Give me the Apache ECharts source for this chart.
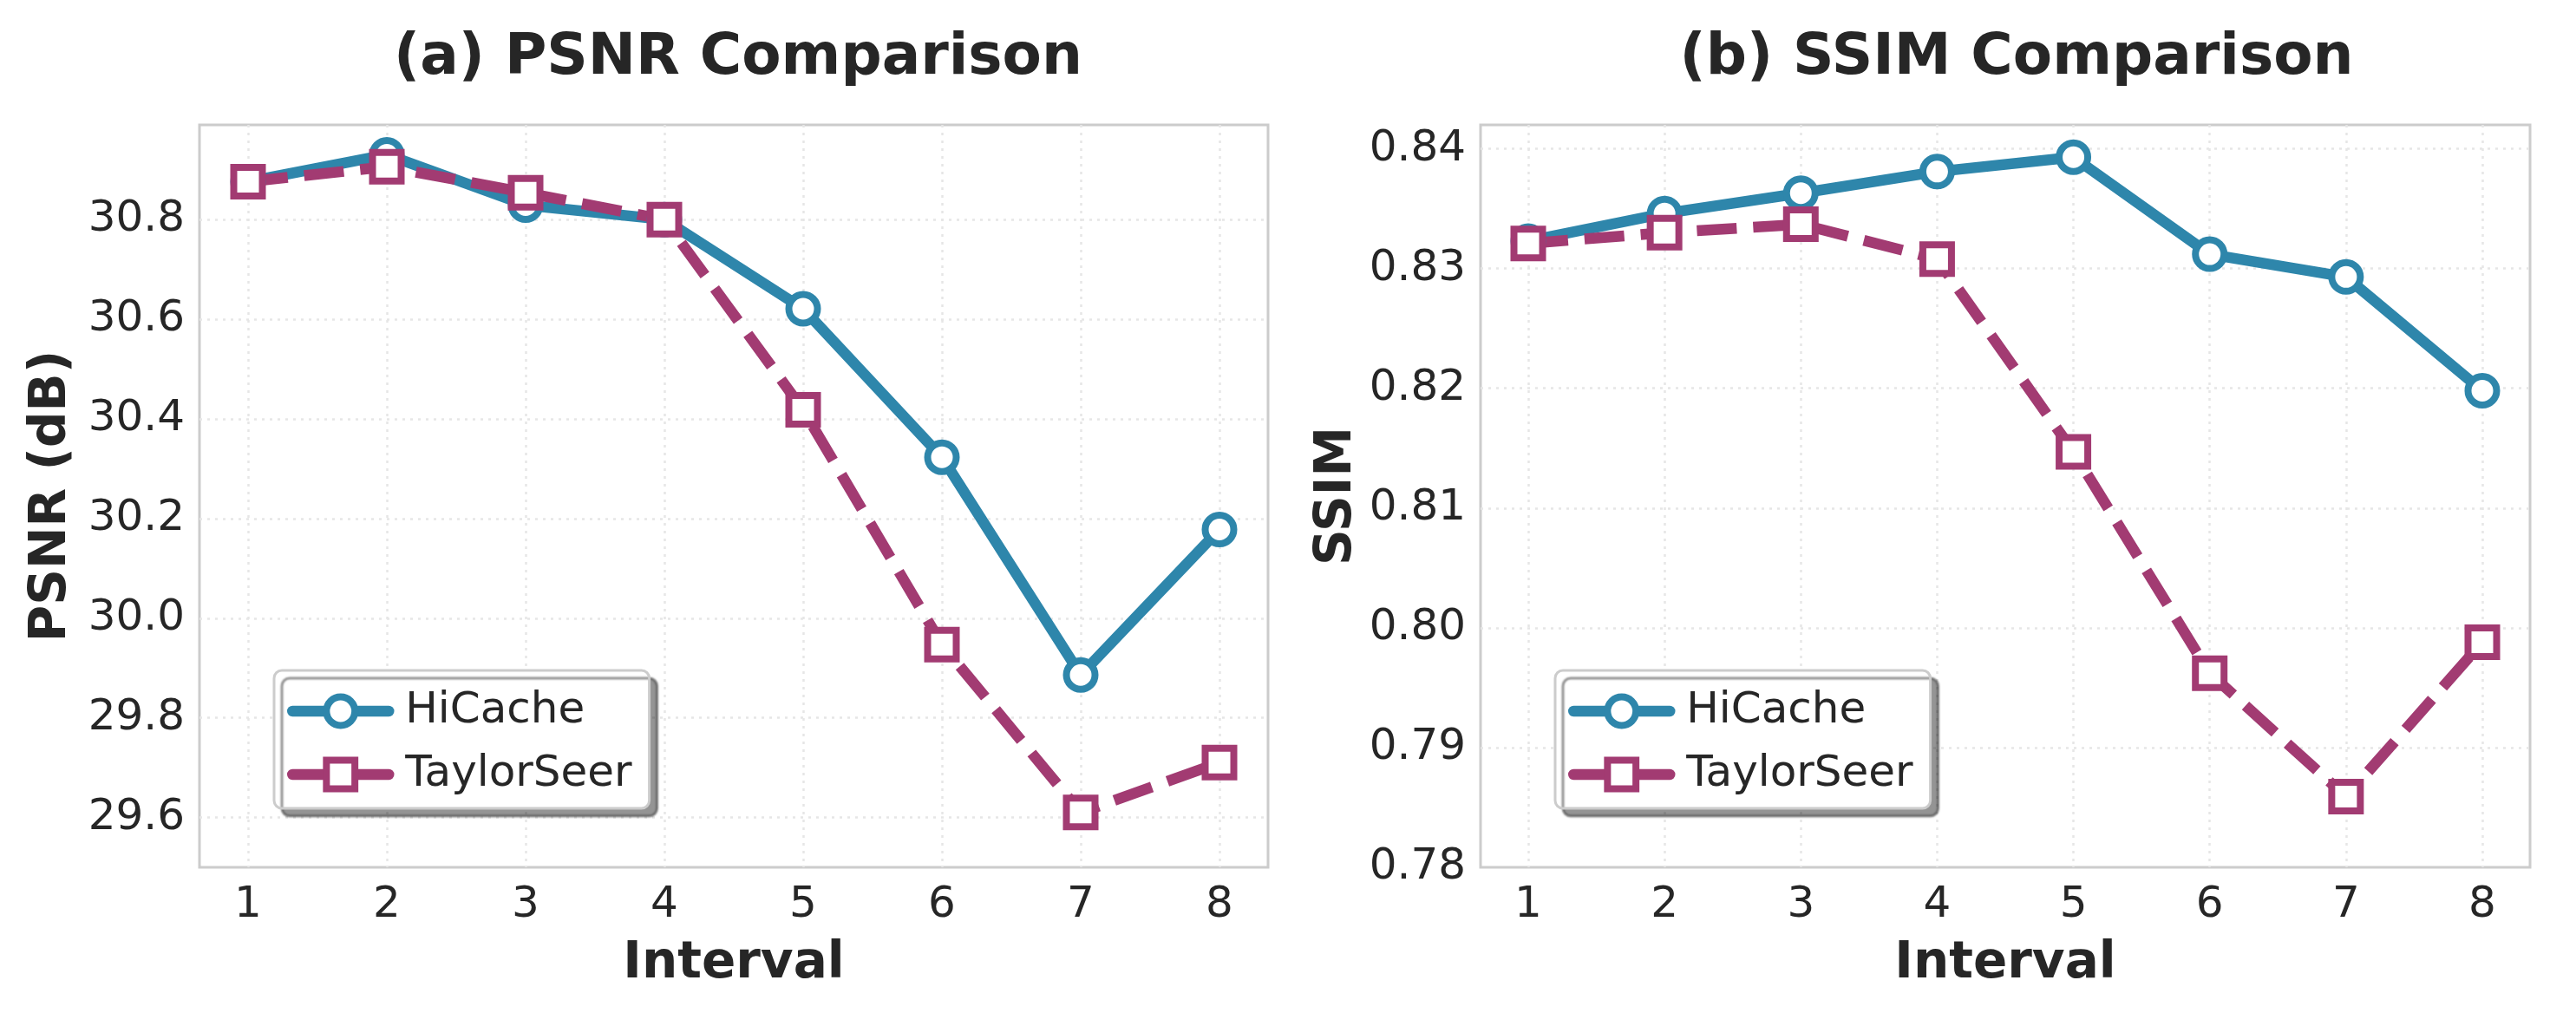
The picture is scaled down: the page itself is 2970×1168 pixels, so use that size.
<!DOCTYPE html>
<html>
<head>
<meta charset="utf-8">
<script src="https://cdn.jsdelivr.net/npm/echarts@6/dist/echarts.min.js"></script>
<style>
html,body{margin:0;padding:0;background:#fff;}
#chart{width:2970px;height:1168px;}
</style>
</head>
<body>
<div id="chart"></div>
<script>
// ---- data ----
const intervals = [1, 2, 3, 4, 5, 6, 7, 8];
const psnrHiCache    = [30.876, 30.930, 30.829, 30.800, 30.621, 30.323, 29.886, 30.178];
const psnrTaylorSeer = [30.876, 30.906, 30.854, 30.800, 30.418, 29.947, 29.610, 29.710];
const ssimHiCache    = [0.8323, 0.8346, 0.8363, 0.8381, 0.8393, 0.8312, 0.8293, 0.8198];
const ssimTaylorSeer = [0.8321, 0.8330, 0.8337, 0.8308, 0.8147, 0.7962, 0.7859, 0.7988];
const seriesNames = ['HiCache', 'TaylorSeer'];
const titles = ['(a) PSNR Comparison', '(b) SSIM Comparison'];
const yNames = ['PSNR (dB)', 'SSIM'];
const xName = 'Interval';

const C_BLUE = '#2E86AB';
const C_PURPLE = '#A23B72';
const TXT = '#262626';
const FONT = 'DejaVu Sans';
const LW = 12.5;
const BW = 8;

const pairs = (ys) => intervals.map((x, i) => [x, ys[i]]);

const chart = echarts.init(document.getElementById('chart'), null, {renderer: 'canvas'});

const grids = [
  {left: 230, top: 144, width: 1232, height: 856},
  {left: 1707, top: 144, width: 1210, height: 856}
];

function xAxisCfg(idx) {
  return {
    type: 'value', gridIndex: idx, min: 0.65, max: 8.35,
    minInterval: 1, maxInterval: 1,
    name: xName, nameLocation: 'middle', nameGap: 83,
    nameTextStyle: {fontFamily: FONT, fontWeight: 'bold', fontSize: 58, color: TXT},
    axisLine: {show: false}, axisTick: {show: false},
    axisLabel: {show: true, fontFamily: FONT, fontSize: 50, color: TXT, margin: 19,
      showMinLabel: false, showMaxLabel: false,
      formatter: v => String(Math.round(v))},
    splitLine: {show: true, showMinLine: false, showMaxLine: false,
      lineStyle: {color: '#e6e6e6', width: 2.5, type: [3, 6]}}
  };
}

function yAxisCfg(idx, min, max, step, digits, name, gap, showMin) {
  return {
    type: 'value', gridIndex: idx, min: min, max: max,
    minInterval: step, maxInterval: step,
    name: name, nameLocation: 'middle', nameGap: gap, nameRotate: 90,
    nameTextStyle: {fontFamily: FONT, fontWeight: 'bold', fontSize: 58, color: TXT},
    axisLine: {show: false}, axisTick: {show: false},
    axisLabel: {fontFamily: FONT, fontSize: 50, color: TXT, margin: 17,
      showMinLabel: showMin, showMaxLabel: false,
      formatter: v => v.toFixed(digits)},
    splitLine: {show: true, showMinLine: false, showMaxLine: false,
      lineStyle: {color: '#e6e6e6', width: 2.5, type: [3, 6]}}
  };
}

function lineSeries(name, data, idx, color, symbol, dashed) {
  return {
    name: name, type: 'line', xAxisIndex: idx, yAxisIndex: idx,
    data: pairs(data), color: color,
    symbol: symbol, symbolSize: 33,
    lineStyle: {color: color, width: LW, type: dashed ? [46, 19] : 'solid', cap: dashed ? 'butt' : 'round', join: 'round'},
    itemStyle: {color: '#ffffff', borderColor: color, borderWidth: BW},
    emphasis: {disabled: true},
    animation: false
  };
}

function legendCfg(left) {
  return {
    left: left, top: 773, orient: 'vertical',
    data: seriesNames,
    itemWidth: 111, itemHeight: 41, itemGap: 23,
    padding: [22, 20, 14, 15],
    backgroundColor: '#ffffff',
    borderColor: '#cccccc', borderWidth: 3, borderRadius: 9,
    shadowColor: 'rgba(0,0,0,0.42)', shadowBlur: 2, shadowOffsetX: 9, shadowOffsetY: 9,
    lineStyle: {width: LW, cap: 'round'},
    itemStyle: {borderWidth: BW},
    textStyle: {fontFamily: FONT, fontSize: 50, lineHeight: 50, color: TXT, padding: [0, 0, 0, 14]},
    selectedMode: false
  };
}

const option = {
  backgroundColor: '#ffffff',
  animation: false,
  title: [
    {text: titles[0], left: 846, top: 30, textAlign: 'center',
     textStyle: {fontFamily: FONT, fontWeight: 'bold', fontSize: 66, color: TXT}},
    {text: titles[1], left: 2320, top: 30, textAlign: 'center',
     textStyle: {fontFamily: FONT, fontWeight: 'bold', fontSize: 66, color: TXT}}
  ],
  grid: grids.map(g => Object.assign({show: true, borderColor: '#cccccc', borderWidth: 3, backgroundColor: 'transparent', containLabel: false}, g)),
  xAxis: [xAxisCfg(0), xAxisCfg(1)],
  yAxis: [
    yAxisCfg(0, 29.5, 30.99, 0.2, 1, yNames[0], 141, false),
    yAxisCfg(1, 0.78, 0.842, 0.01, 2, yNames[1], 136, true)
  ],
  legend: [legendCfg(316), legendCfg(1793)],
  series: [
    lineSeries(seriesNames[0], psnrHiCache, 0, C_BLUE, 'circle', false),
    lineSeries(seriesNames[1], psnrTaylorSeer, 0, C_PURPLE, 'rect', true),
    lineSeries(seriesNames[0], ssimHiCache, 1, C_BLUE, 'circle', false),
    lineSeries(seriesNames[1], ssimTaylorSeer, 1, C_PURPLE, 'rect', true)
  ]
};
chart.setOption(option);
</script>
</body>
</html>
